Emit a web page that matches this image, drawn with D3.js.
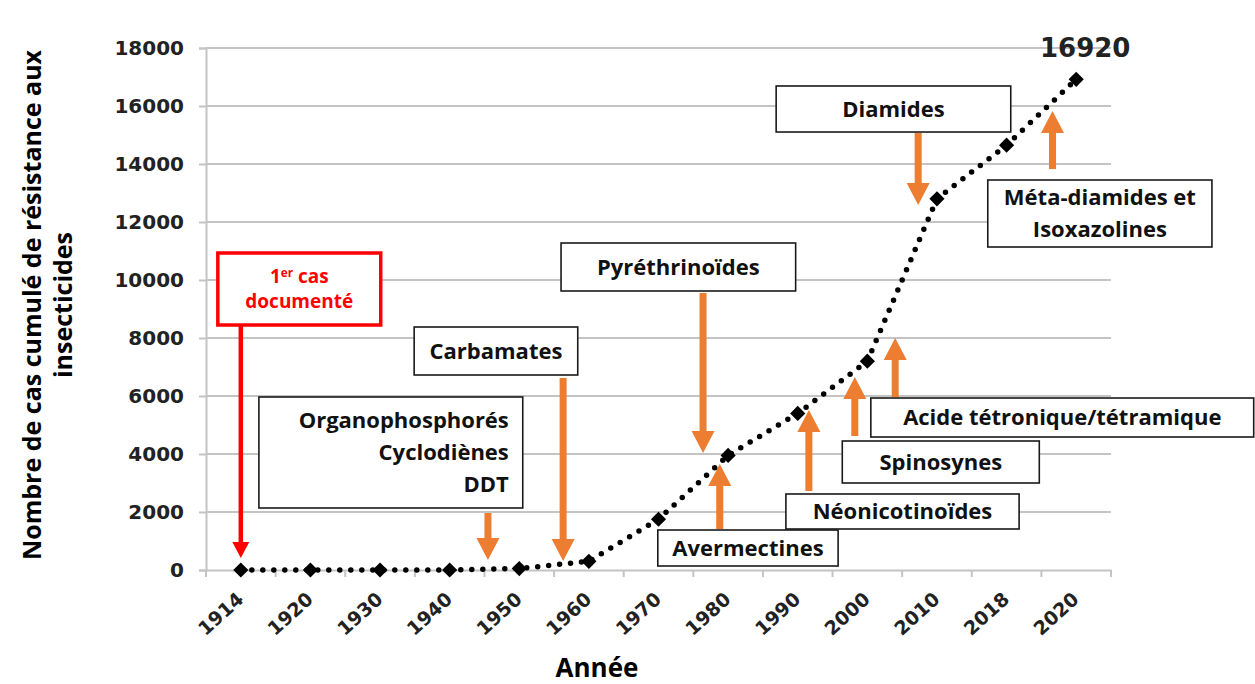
<!DOCTYPE html>
<html><head><meta charset="utf-8">
<script src="https://cdn.jsdelivr.net/npm/d3@7"></script>
<style>body{margin:0;background:#fff}</style>
</head><body><svg id="c" width="1255" height="684"></svg>
<script>
// ---------- data ----------
const years = ["1914","1920","1930","1940","1950","1960","1970","1980","1990","2000","2010","2018","2020"];
const cases = [0, 0, 0, 0, 50, 300, 1750, 3950, 5400, 7200, 12800, 14650, 16920];
const yTicks = [0, 2000, 4000, 6000, 8000, 10000, 12000, 14000, 16000, 18000];
const finalLabel = "16920";
const yTitle = ["Nombre de cas cumulé de résistance aux", "insecticides"];
const xTitle = "Année";

// annotations: x in band units (0 = left edge of first band), y in data units
const annotations = [
  {lines:[["1","er"," cas"],["documenté"]], box:[0.17,2.51,10931,8448], arrow:[0.5,8448,414], kind:"red"},
  {lines:[["Organophosphorés"],["Cyclodiènes"],["DDT"]], box:[0.76,4.55,5966,2138], arrow:[4.05,2000,345], align:"right", alignU:4.35},
  {lines:[["Carbamates"]], box:[2.99,5.34,8379,6724], arrow:[5.13,6655,310]},
  {lines:[["Pyréthrinoïdes"]], box:[5.10,8.47,11276,9621], arrow:[7.14,9586,4034]},
  {lines:[["Avermectines"]], box:[6.49,9.08,1379,138], arrow:[7.38,1379,3655]},
  {lines:[["Néonicotinoïdes"]], box:[8.33,11.68,2621,1414], arrow:[8.66,2690,5517]},
  {lines:[["Spinosynes"]], box:[9.14,11.97,4448,3000], arrow:[9.32,4586,6655]},
  {lines:[["Acide tétronique/tétramique"]], box:[9.55,15.05,5931,4586], arrow:[9.90,5931,8000]},
  {lines:[["Diamides"]], box:[8.19,11.56,16690,15103], arrow:[10.23,15103,12586]},
  {lines:[["Méta-diamides et"],["Isoxazolines"]], box:[11.23,14.45,13448,11138], arrow:[12.16,13793,15828]}
];

// ---------- layout ----------
const W = 1255, H = 684;
const pLeft = 206, pRight = 1111, pTop = 48, pBottom = 570;
const ORANGE = "#ED7D31", RED = "#FF0000", GRID = "#c4c4c4";
const boxFont = "'Open Sans', sans-serif";
const numFont = "'DejaVu Sans', Verdana, sans-serif";

const svg = d3.select("#c");
const x = d3.scaleBand().domain(years).range([pLeft, pRight]).padding(0);
const y = d3.scaleLinear().domain([0, 18000]).range([pBottom, pTop]);
const step = x.step();
const ux = u => pLeft + u * step;
const cx = d => x(d) + step / 2;

// grid
svg.append("g").selectAll("line").data(yTicks.filter(d => d > 0)).join("line")
  .attr("x1", pLeft).attr("x2", pRight).attr("y1", d => y(d)).attr("y2", d => y(d))
  .attr("stroke", GRID).attr("stroke-width", 2);

// y axis
const ya = svg.append("g").attr("transform", `translate(${pLeft},0)`)
  .call(d3.axisLeft(y).tickValues(yTicks).tickFormat(d3.format("d")).tickSize(7).tickPadding(15));
ya.select(".domain").attr("stroke", GRID).attr("stroke-width", 2);
ya.selectAll(".tick line").attr("stroke", GRID).attr("stroke-width", 2);
ya.selectAll(".tick text").attr("font-family", numFont).attr("font-weight", "bold")
  .attr("font-size", 20).attr("fill", "#222");

// x axis
const xa = svg.append("g").attr("transform", `translate(0,${pBottom})`)
  .call(d3.axisBottom(x).tickSize(0).tickPadding(0));
xa.select(".domain").attr("stroke", GRID).attr("stroke-width", 2);
xa.selectAll(".tick text").remove();
const bounds = years.map(d => x(d)).concat([pRight]);
xa.append("g").selectAll("line").data(bounds).join("line")
  .attr("x1", d => d).attr("x2", d => d).attr("y1", 0).attr("y2", 7)
  .attr("stroke", GRID).attr("stroke-width", 2);
xa.append("g").selectAll("text").data(years).join("text")
  .attr("transform", d => `translate(${cx(d) + 4},${31}) rotate(-42)`)
  .attr("text-anchor", "end")
  .attr("font-family", numFont).attr("font-weight", "bold").attr("font-size", 19)
  .attr("fill", "#222").text(d => d);

// annotation boxes
const ag = svg.append("g");
annotations.forEach(a => {
  const [u0, u1, v0, v1] = a.box;
  const bx = ux(u0), bw = ux(u1) - ux(u0), by = y(v0), bh = y(v1) - y(v0);
  const red = a.kind === "red";
  ag.append("rect").attr("x", bx).attr("y", by).attr("width", bw).attr("height", bh)
    .attr("fill", "#fff").attr("stroke", red ? RED : "#1a1a1a").attr("stroke-width", red ? 3.5 : 1.6);
  const lh = red ? 25 : 32;
  const fs = red ? 19 : 22;
  const n = a.lines.length;
  const midY = by + bh / 2;
  const tx = a.align === "right" ? ux(a.alignU) : bx + bw / 2;
  a.lines.forEach((parts, i) => {
    const t = ag.append("text")
      .attr("x", tx).attr("y", midY + (i - (n - 1) / 2) * lh)
      .attr("dy", "0.36em")
      .attr("text-anchor", a.align === "right" ? "end" : "middle")
      .attr("font-family", boxFont).attr("font-weight", "bold").attr("font-size", fs)
      .attr("fill", red ? RED : "#111");
    if (parts.length === 3) {
      t.append("tspan").text(parts[0]);
      t.append("tspan").attr("font-size", fs * 0.62).attr("dy", "-0.55em").text(parts[1]);
      t.append("tspan").attr("dy", "0.34em").text(parts[2]);
    } else {
      t.text(parts[0]);
    }
  });
});

// arrows
function arrow(xc, yFrom, yTo, sw, hw, hl, color) {
  const dir = Math.sign(yTo - yFrom);
  const yb = yTo - dir * hl;
  const pts = [[xc - sw / 2, yFrom], [xc + sw / 2, yFrom], [xc + sw / 2, yb], [xc + hw / 2, yb],
               [xc, yTo], [xc - hw / 2, yb], [xc - sw / 2, yb]];
  ag.append("path").attr("d", d3.line()(pts) + "Z").attr("fill", color);
}
annotations.forEach(a => {
  const [u, vf, vt] = a.arrow;
  if (a.kind === "red") arrow(ux(u), y(vf) + 1, y(vt), 4.5, 17, 16, RED);
  else arrow(ux(u), y(vf) + (y(vt) > y(vf) ? 1 : -1), y(vt), 7, 23, 22, ORANGE);
});

// series line (dotted)
const pts = years.map((d, i) => ({year: d, v: cases[i]}));
svg.append("path").datum(pts)
  .attr("d", d3.line().x(d => cx(d.year)).y(d => y(d.v)))
  .attr("fill", "none").attr("stroke", "#000").attr("stroke-width", 5.5)
  .attr("stroke-linecap", "round").attr("stroke-dasharray", "0 11");
svg.append("g").selectAll("path").data(pts).join("path")
  .attr("d", d3.symbol(d3.symbolSquare, 115))
  .attr("transform", d => `translate(${cx(d.year)},${y(d.v)}) rotate(45)`)
  .attr("fill", "#000");

// final value label
const last = pts[pts.length - 1];
svg.append("text").attr("x", cx(last.year) + 9).attr("y", y(last.v) - 22)
  .attr("text-anchor", "middle").attr("font-family", numFont).attr("font-weight", "bold")
  .attr("font-size", 26).attr("fill", "#222").text(finalLabel);

// titles
svg.append("text").attr("transform", "translate(32,305) rotate(-90)")
  .attr("text-anchor", "middle").attr("dy", "0.36em")
  .attr("font-family", boxFont).attr("font-weight", "bold").attr("font-size", 25)
  .attr("fill", "#000").text(yTitle[0]);
svg.append("text").attr("transform", "translate(63,305) rotate(-90)")
  .attr("text-anchor", "middle").attr("dy", "0.36em")
  .attr("font-family", boxFont).attr("font-weight", "bold").attr("font-size", 25)
  .attr("fill", "#000").text(yTitle[1]);
svg.append("text").attr("x", 597).attr("y", 677)
  .attr("text-anchor", "middle")
  .attr("font-family", boxFont).attr("font-weight", "bold").attr("font-size", 26)
  .attr("fill", "#000").text(xTitle);
</script></body></html>
